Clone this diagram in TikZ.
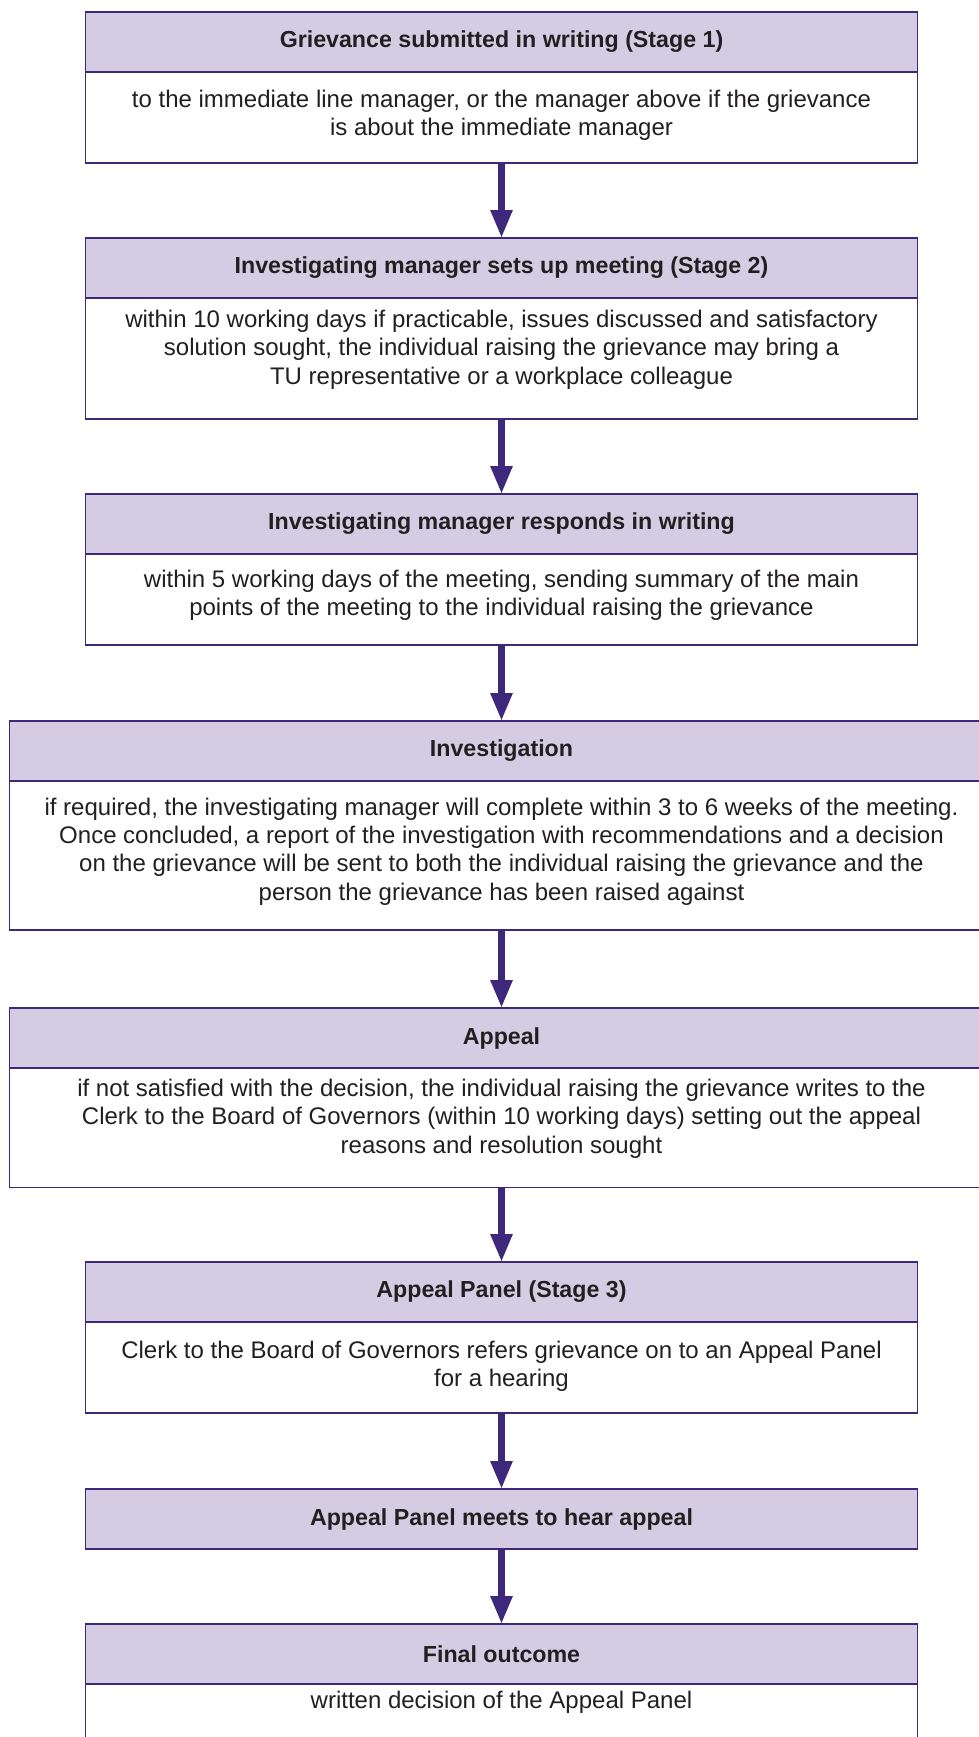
\documentclass[tikz,border=0pt]{standalone}
\usepackage{fontspec}
\setmainfont{Liberation Sans}
\usetikzlibrary{positioning,arrows.meta}

\definecolor{bordure}{RGB}{62,40,124}
\definecolor{entete}{RGB}{212,204,227}
\definecolor{texte}{RGB}{35,31,32}

\begin{document}
\begin{tikzpicture}[x=0.5pt,y=-0.5pt,
	titre/.style={draw=bordure, line width=0.65pt, fill=entete, outer sep=0pt,
		minimum width=#1, minimum height=30pt, text=texte,
		font=\fontsize{11.6}{14}\selectfont\bfseries},
	titre/.default=416pt,
	corps/.style={draw=bordure, line width=0.65pt, fill=white, outer sep=0pt,
		minimum width=#1, align=center, inner xsep=2pt, text=texte,
		text depth=11.5pt, font=\fontsize{12}{14.2}\selectfont},
	corps/.default=416pt,
	fleche/.style={draw=bordure, line width=3.35pt, -{Triangle[width=10.3pt,length=14pt]}}]

%%%%%%%%%%%%%%%%%%%%%%
%%%	 Def géométrie  %%%
%%%%%%%%%%%%%%%%%%%%%%

\def \milieu{501.5}
\def \largeur{416pt}
\def \grandlargeur{492pt}

\useasboundingbox (0,0) rectangle (979,1737);
\clip (0,0) rectangle (979,1737);

%%%%%%%%%%%%%%%%%%%%%%
%%%	    Dessin      %%%
%%%%%%%%%%%%%%%%%%%%%%

% Etape 1
\node[titre=\largeur, anchor=north] (h1) at (\milieu,12) {Grievance submitted in writing (Stage 1)};
\node[corps=\largeur, minimum height=45.5pt, text depth=5pt, below=0pt of h1] (b1) {to the immediate line manager, or the manager above if the grievance\\ is about the immediate manager};

% Etape 2
\node[titre=\largeur, anchor=north] (h2) at (\milieu,238) {Investigating manager sets up meeting (Stage 2)};
\node[corps=\largeur, minimum height=60.5pt, below=0pt of h2] (b2) {within 10 working days if practicable, issues discussed and satisfactory\\ solution sought, the individual raising the grievance may bring a\\ TU representative or a workplace colleague};

% Réponse
\node[titre=\largeur, anchor=north] (h3) at (\milieu,494) {Investigating manager responds in writing};
\node[corps=\largeur, minimum height=45.5pt, text depth=7pt, below=0pt of h3] (b3) {within 5 working days of the meeting, sending summary of the main\\ points of the meeting to the individual raising the grievance};

% Enquête
\node[titre=\grandlargeur, anchor=north] (h4) at (\milieu,721) {Investigation};
\node[corps=\grandlargeur, minimum height=74.5pt, text depth=6.5pt, below=0pt of h4] (b4) {if required, the investigating manager will complete within 3 to 6 weeks of the meeting.\\ Once concluded, a report of the investigation with recommendations and a decision\\ on the grievance will be sent to both the individual raising the grievance and the\\ person the grievance has been raised against};

% Appel
\node[titre=\grandlargeur, anchor=north] (h5) at (\milieu,1008) {Appeal};
\node[corps=\grandlargeur, minimum height=59.75pt, below=0pt of h5] (b5) {if not satisfied with the decision, the individual raising the grievance writes to the\\ Clerk to the Board of Governors (within 10 working days) setting out the appeal\\ reasons and resolution sought};

% Etape 3
\node[titre=\largeur, anchor=north] (h6) at (\milieu,1262) {Appeal Panel (Stage 3)};
\node[corps=\largeur, minimum height=45.5pt, text depth=4pt, below=0pt of h6] (b6) {Clerk to the Board of Governors refers grievance on to an Appeal Panel\\ for a hearing};

\node[titre=\largeur, anchor=north] (h7) at (\milieu,1489) {Appeal Panel meets to hear appeal};

% Fin
\node[titre=\largeur, anchor=north] (h8) at (\milieu,1624) {Final outcome};
\node[corps=\largeur, minimum height=27.5pt, below=0pt of h8] (b8) {written decision of the Appeal Panel};

%%%%%%%%%%%%%%%%%%%%%%
%%%	    Flèches     %%%
%%%%%%%%%%%%%%%%%%%%%%

\draw[fleche] (b1.south) -- (h2.north);
\draw[fleche] (b2.south) -- (h3.north);
\draw[fleche] (b3.south) -- (h4.north);
\draw[fleche] (b4.south) -- (h5.north);
\draw[fleche] (b5.south) -- (h6.north);
\draw[fleche] (b6.south) -- (h7.north);
\draw[fleche] (h7.south) -- (h8.north);

\end{tikzpicture}
\end{document}
